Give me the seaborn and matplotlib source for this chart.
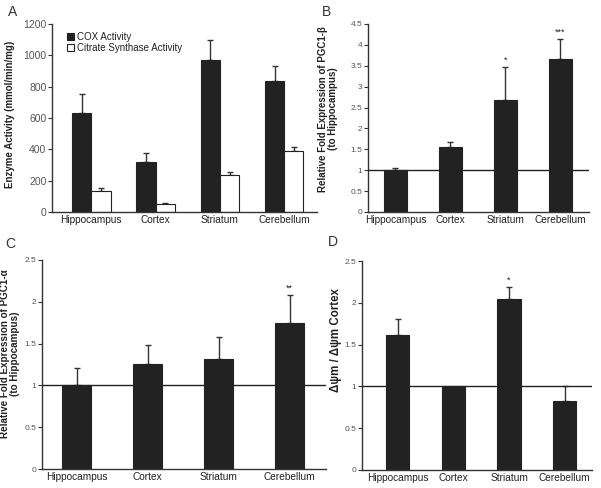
import matplotlib
matplotlib.use("Agg")
import matplotlib.pyplot as plt
import seaborn as sns
import pandas as pd
import numpy as np

sns.set_style("white")
plt.rcParams['font.family'] = ['Liberation Sans', 'DejaVu Sans']

regions = ["Hippocampus", "Cortex", "Striatum", "Cerebellum"]

# Panel A
cox_activity = [630, 320, 970, 835]
cox_err = [125, 55, 125, 95]
cs_activity = [135, 50, 235, 390]
cs_err = [15, 8, 22, 25]
a_series = ["COX Activity", "Citrate Synthase Activity"]

# Panel B
pgc1b = [1.0, 1.55, 2.68, 3.67]
pgc1b_err = [0.06, 0.12, 0.78, 0.48]
pgc1b_sig = ["", "", "*", "***"]

# Panel C
pgc1a = [1.0, 1.26, 1.32, 1.75]
pgc1a_err = [0.21, 0.22, 0.26, 0.33]
pgc1a_sig = ["", "", "", "**"]

# Panel D
dpsi = [1.62, 1.0, 2.04, 0.83]
dpsi_err = [0.19, 0.0, 0.15, 0.17]
dpsi_sig = ["", "", "*", ""]

DARK = "#222222"
TXT = "#222222"
TICK = "#555555"
XFS = 7.3

fig = plt.figure(figsize=(6.01, 4.88), dpi=100)

axA = fig.add_axes([52/601, 1-212/488, 265/601, 188/488])
axB = fig.add_axes([368/601, 1-212/488, 221/601, 188/488])
axC = fig.add_axes([42/601, 1-469/488, 284/601, 209/488])
axD = fig.add_axes([362/601, 1-470/488, 230/601, 209/488])


def style_axis(ax, ymax, ystep, tick_fs):
    for s in ["top", "right"]:
        ax.spines[s].set_visible(False)
    for s in ["left", "bottom"]:
        ax.spines[s].set_color("#333333")
        ax.spines[s].set_linewidth(1.0)
    ax.set_ylim(0, ymax)
    ticks = np.arange(0, ymax + ystep / 2, ystep)
    ax.set_yticks(ticks)
    ax.set_yticklabels([f"{t:g}" for t in ticks])
    ax.tick_params(axis="y", direction="out", length=3, width=0.8, colors="#333333",
                   labelcolor=TICK, labelsize=tick_fs, pad=1, left=True)
    ax.tick_params(axis="x", length=0, labelsize=XFS, labelcolor=TXT, pad=2)
    ax.set_xlabel("")


def upper_err(ax, xs, ys, errs):
    errs = np.asarray(errs)
    mask = errs > 0
    xs = np.asarray(xs)[mask]
    ys = np.asarray(ys)[mask]
    errs = errs[mask]
    ax.errorbar(xs, ys, yerr=[np.zeros_like(errs), errs], fmt="none",
                ecolor="#333333", elinewidth=1.0, capsize=2.5, capthick=1.0, zorder=1)


# ---------- Panel A ----------
dfA = pd.DataFrame({
    "Region": regions * 2,
    "Series": [a_series[0]] * 4 + [a_series[1]] * 4,
    "Value": cox_activity + cs_activity,
})
sns.barplot(data=dfA, x="Region", y="Value", hue="Series", order=regions,
            hue_order=a_series, palette=[DARK, "white"], width=0.6,
            edgecolor="#222222", linewidth=0.8, errorbar=None, ax=axA, zorder=2)
xc = np.arange(4)
upper_err(axA, xc - 0.15, cox_activity, cox_err)
upper_err(axA, xc + 0.15, cs_activity, cs_err)
style_axis(axA, 1200, 200, 7.5)
axA.set_xlim(-0.61, 3.51)
axA.set_xticks([0.42, 1.46, 2.5], minor=True)
axA.tick_params(axis="x", which="minor", direction="out", length=3, width=0.8, colors="#333333")
axA.set_ylabel("Enzyme Activity (mmol/min/mg)", fontsize=7, fontweight="bold", color=TXT)
axA.yaxis.set_label_coords(-37/265, 0.52)
leg = axA.legend(loc="upper left", bbox_to_anchor=(0.035, 0.99), frameon=False, fontsize=7,
                 handlelength=0.7, handleheight=0.7, handletextpad=0.3, labelspacing=0.15,
                 borderaxespad=0.2)
for t in leg.get_texts():
    t.set_color(TXT)


def single_panel(ax, values, errs, sig, ymax, xlim, width, ylabel, ylabel_fs, label_x, label_y):
    df = pd.DataFrame({"Region": regions, "Value": values})
    sns.barplot(data=df, x="Region", y="Value", order=regions, color=DARK,
                width=width, edgecolor="#222222", linewidth=0.8, errorbar=None,
                ax=ax, zorder=2, saturation=1)
    upper_err(ax, np.arange(4), values, errs)
    style_axis(ax, ymax, 0.5, 6)
    ax.set_xlim(*xlim)
    ax.axhline(1.0, color="#222222", linewidth=1.0, zorder=3)
    for i, (v, e, s) in enumerate(zip(values, errs, sig)):
        if s:
            ax.text(i, v + e + ymax * 0.012, s, ha="center", va="bottom", fontsize=6.5, color=TXT)
    ax.set_ylabel(ylabel, fontsize=ylabel_fs, fontweight="bold", color=TXT, linespacing=1.0)
    ax.yaxis.set_label_coords(label_x, label_y)


single_panel(axB, pgc1b, pgc1b_err, pgc1b_sig, 4.5, (-0.5, 3.52), 0.42,
             "Relative Fold Expression of PGC1-β\n(to Hippocampus)", 7,
             -30/221, 0.55)
single_panel(axC, pgc1a, pgc1a_err, pgc1a_sig, 2.5, (-0.49, 3.51), 0.41,
             "Relative Fold Expression of PGC1-α\n(to Hippocampus)", 7.1,
             -22/284, 0.55)
single_panel(axD, dpsi, dpsi_err, dpsi_sig, 2.5, (-0.64, 3.49), 0.42,
             "Δψm / Δψm Cortex", 8.3,
             -20/230, 0.62)

# Panel letters
fig.text(8/601, 1-12/488, "A", fontsize=10, color="#333333", ha="left", va="center")
fig.text(322/601, 1-12/488, "B", fontsize=10, color="#333333", ha="left", va="center")
fig.text(5/601, 1-244/488, "C", fontsize=10, color="#333333", ha="left", va="center")
fig.text(328/601, 1-242/488, "D", fontsize=10, color="#333333", ha="left", va="center")

fig.savefig("out.png", dpi=100)
